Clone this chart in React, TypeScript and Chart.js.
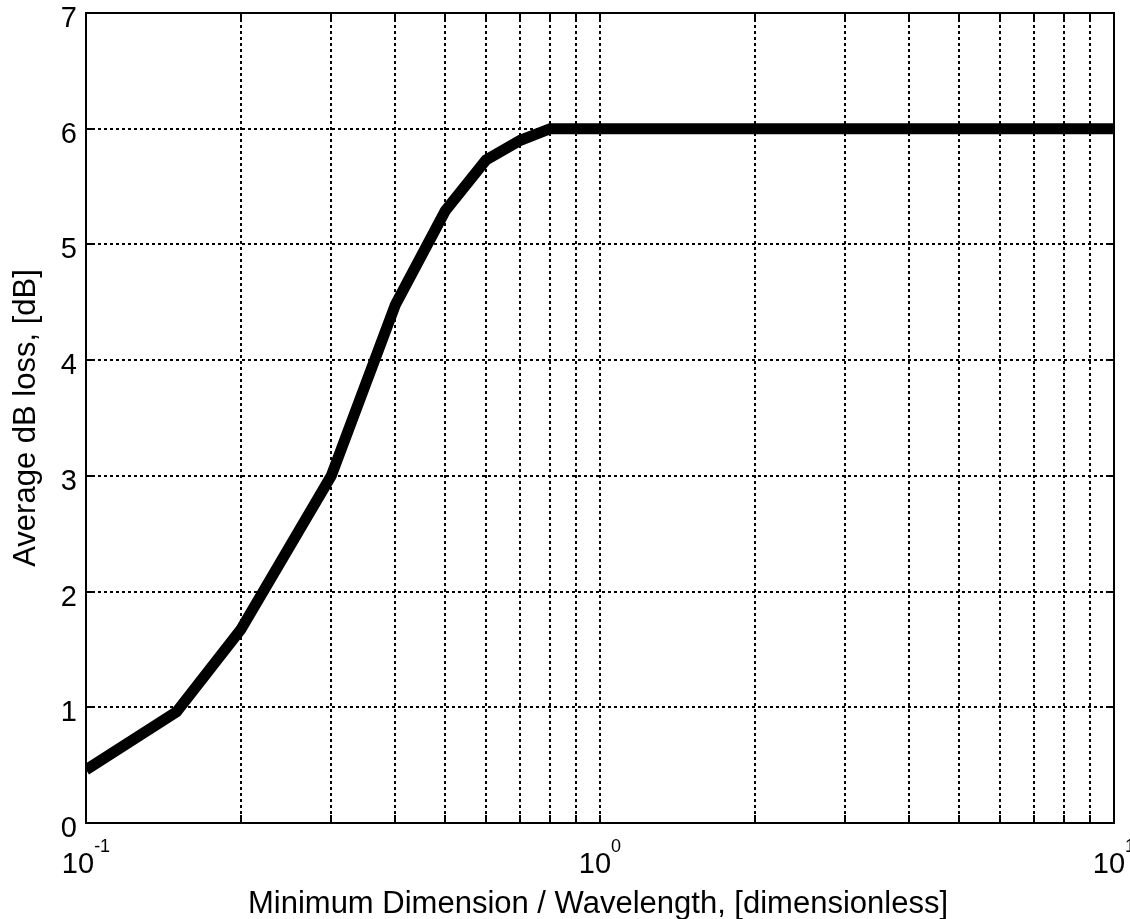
import React, { useEffect, useRef } from "react";
import { Chart, registerables } from "chart.js";

Chart.register(...registerables);

// Data
const xValues = [0.1, 0.15, 0.2, 0.3, 0.4, 0.5, 0.6, 0.7, 0.8, 1, 2, 5, 10];
const yValues = [0.46, 0.96, 1.67, 3.0, 4.48, 5.29, 5.73, 5.9, 6.0, 6.0, 6.0, 6.0, 6.0];

// Axis ticks
const xGridTicks = [0.1, 0.2, 0.3, 0.4, 0.5, 0.6, 0.7, 0.8, 0.9, 1, 2, 3, 4, 5, 6, 7, 8, 9, 10];
const xLabelValues = [0.1, 1, 10];
const xLabelBases = ["10", "10", "10"];
const xLabelExponents = ["-1", "0", "1"];
const yTicks = [0, 1, 2, 3, 4, 5, 6, 7];

const xTitle = "Minimum Dimension / Wavelength, [dimensionless]";
const yTitle = "Average dB loss, [dB]";

const FONT = "'Liberation Sans', Arial, Helvetica, sans-serif";

const decorPlugin = {
  id: "matlabDecor",
  afterDraw(chart: any) {
    const ctx = chart.ctx as CanvasRenderingContext2D;
    const area = chart.chartArea;
    const xs = chart.scales.x;
    const ys = chart.scales.y;
    ctx.save();
    ctx.strokeStyle = "#000";
    ctx.fillStyle = "#000";

    // tick marks (inward, top/bottom/left/right)
    ctx.lineWidth = 2;
    ctx.setLineDash([]);
    const tl = 8;
    ctx.beginPath();
    for (const v of xGridTicks) {
      const px = Math.round(xs.getPixelForValue(v));
      ctx.moveTo(px, area.bottom);
      ctx.lineTo(px, area.bottom - tl);
      ctx.moveTo(px, area.top);
      ctx.lineTo(px, area.top + tl);
    }
    for (const v of yTicks) {
      const py = Math.round(ys.getPixelForValue(v));
      ctx.moveTo(area.left, py);
      ctx.lineTo(area.left + tl, py);
      ctx.moveTo(area.right, py);
      ctx.lineTo(area.right - tl, py);
    }
    ctx.stroke();

    // box
    ctx.lineWidth = 2;
    ctx.strokeRect(area.left, area.top, area.right - area.left, area.bottom - area.top);

    // y tick labels
    ctx.font = `29px ${FONT}`;
    ctx.textAlign = "right";
    ctx.textBaseline = "alphabetic";
    for (const v of yTicks) {
      const py = ys.getPixelForValue(v);
      ctx.fillText(String(v), area.left - 9, py + 14);
    }

    // x tick labels with superscript exponents
    xLabelValues.forEach((v, i) => {
      const px = xs.getPixelForValue(v);
      ctx.font = `29px ${FONT}`;
      const wb = ctx.measureText(xLabelBases[i]).width;
      ctx.font = `18px ${FONT}`;
      const we = ctx.measureText(xLabelExponents[i]).width;
      const start = px - (wb + we) / 2;
      ctx.textAlign = "left";
      ctx.font = `29px ${FONT}`;
      ctx.fillText(xLabelBases[i], start, 873);
      ctx.font = `18px ${FONT}`;
      ctx.fillText(xLabelExponents[i], start + wb, 852);
    });

    // axis titles
    ctx.font = `31px ${FONT}`;
    ctx.textAlign = "center";
    ctx.fillText(xTitle, (area.left + area.right) / 2 - 2, 913);

    ctx.save();
    ctx.translate(35, (area.top + area.bottom) / 2);
    ctx.rotate(-Math.PI / 2);
    ctx.fillText(yTitle, 0, 0);
    ctx.restore();

    ctx.restore();
  },
};

export default function App() {
  const canvasRef = useRef<HTMLCanvasElement | null>(null);

  useEffect(() => {
    document.body.style.margin = "0";
    const canvas = canvasRef.current;
    if (!canvas) return;
    const chart = new Chart(canvas, {
      type: "line",
      data: {
        datasets: [
          {
            data: xValues.map((x, i) => ({ x, y: yValues[i] })),
            borderColor: "#000",
            borderWidth: 11,
            pointRadius: 0,
            tension: 0,
            fill: false,
            borderCapStyle: "butt",
            borderJoinStyle: "miter",
            clip: 0,
          } as any,
        ],
      },
      options: {
        responsive: false,
        animation: false,
        devicePixelRatio: 1,
        layout: { padding: { top: 13, right: 16, left: 0, bottom: 0 } },
        plugins: {
          legend: { display: false },
          tooltip: { enabled: false },
          title: { display: false },
        },
        scales: {
          x: {
            type: "logarithmic",
            min: 0.1,
            max: 10,
            afterBuildTicks: (scale: any) => {
              scale.ticks = xGridTicks.map((v) => ({ value: v }));
            },
            afterFit: (scale: any) => {
              scale.height = 96;
            },
            ticks: { display: false, autoSkip: false },
            grid: { color: "#000", lineWidth: 2, drawTicks: false },
            border: { display: false, dash: [3, 3] },
          } as any,
          y: {
            type: "linear",
            min: 0,
            max: 7,
            afterBuildTicks: (scale: any) => {
              scale.ticks = yTicks.map((v) => ({ value: v }));
            },
            afterFit: (scale: any) => {
              scale.width = 86;
            },
            ticks: { display: false, stepSize: 1 },
            grid: { color: "#000", lineWidth: 2, drawTicks: false },
            border: { display: false, dash: [3, 3] },
          } as any,
        },
      },
      plugins: [decorPlugin],
    });
    return () => chart.destroy();
  }, []);

  return (
    <div style={{ width: 1130, height: 919, background: "#fff" }}>
      <canvas ref={canvasRef} width={1130} height={919} style={{ display: "block" }} />
    </div>
  );
}
